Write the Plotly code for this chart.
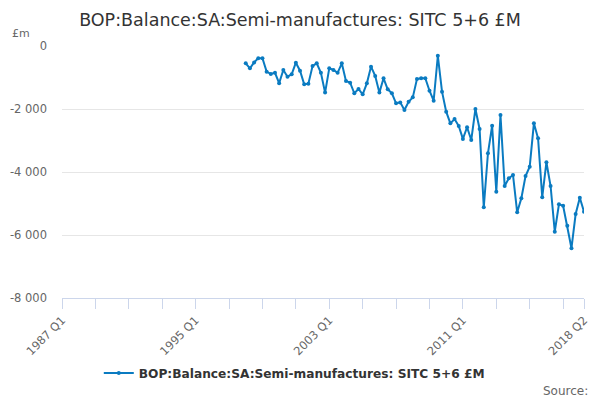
import plotly.graph_objects as go

# quarters along the axis, 1987 Q1 .. 2018 Q2
quarters = ["%d Q%d" % (y, q) for y in range(1987, 2019) for q in range(1, 5)][:126]

# BOP balance, SA, semi-manufactures (SITC 5+6), £m, 1998 Q1 .. 2018 Q2
start = "1998 Q1"
balance = [
    -550, -710, -520, -390, -390, -815, -890, -850, -1180, -760,
    -975, -900, -530, -785, -1215, -1195, -635, -550, -850, -1480,
    -710, -760, -850, -550, -1110, -1165, -1500, -1365, -1535, -1185,
    -655, -950, -1480, -1025, -1375, -1500, -1820, -1790, -2030, -1770,
    -1630, -1050, -1025, -1025, -1420, -1735, -310, -1450, -2085, -2455,
    -2320, -2540, -2950, -2580, -2985, -2000, -2635, -5120, -3405, -2530,
    -4625, -2190, -4445, -4200, -4095, -5280, -4835, -4130, -3830, -2455,
    -2930, -4800, -3690, -4445, -5895, -5025, -5070, -5705, -6420, -5335,
    -4815, -5260,
]

x_ticks = quarters[::8] + ["2018 Q2"]
x_labels = ["1987 Q1", "1995 Q1", "2003 Q1", "2011 Q1", "2018 Q2"]
y_ticks = [0, -2000, -4000, -6000, -8000]
y_labels = ["0", "-2 000", "-4 000", "-6 000", "-8 000"]

i0 = quarters.index(start)
x_data = quarters[i0:i0 + len(balance)]

name = "BOP:Balance:SA:Semi-manufactures: SITC 5+6 £M"

fig = go.Figure()
fig.add_trace(go.Scatter(
    x=x_data, y=balance, name=name, mode="lines+markers",
    line=dict(color="#0a7bc1", width=2),
    marker=dict(size=4, color="#0a7bc1"),
))

fig.update_layout(
    width=600, height=400,
    margin=dict(l=62, r=16, t=46, b=102, autoexpand=False),
    plot_bgcolor="white", paper_bgcolor="white",
    font=dict(family="DejaVu Sans", color="#666666", size=11),
    title=dict(text=name, x=0.5, xanchor="center", y=0.95, yanchor="middle",
               font=dict(size=17.5, color="#333333")),
    showlegend=True,
    legend=dict(orientation="h", x=0.445, xanchor="center", y=0.0675, yref="container",
                yanchor="middle", font=dict(size=12.2, color="#333333", weight="bold")),
    xaxis=dict(
        type="category", categoryorder="array", categoryarray=quarters,
        range=[0, len(quarters) - 1], automargin=False,
        tickmode="array", tickvals=x_ticks,
        ticktext=[t if t in x_labels else "" for t in x_ticks],
        tickangle=-45, ticks="outside", ticklen=10, tickcolor="#ccd6eb",
        tickfont=dict(color="#666666", size=11.5),
        showline=True, linecolor="#ccd6eb", showgrid=False, zeroline=False,
    ),
    yaxis=dict(
        range=[-8000, 0], tickmode="array", tickvals=y_ticks, ticktext=y_labels,
        showgrid=True, gridcolor="#e6e6e6", zeroline=False, automargin=False,
        ticklabelstandoff=14, tickfont=dict(color="#666666", size=11.5),
    ),
    annotations=[
        dict(text="£m", xref="paper", yref="paper", x=-0.0785, y=1.05,
             showarrow=False, xanchor="center", yanchor="middle",
             font=dict(size=11, color="#666666")),
        dict(text="Source:", xref="paper", yref="paper", x=1.0115, y=-0.37,
             showarrow=False, xanchor="right", yanchor="middle",
             font=dict(size=12, color="#666666")),
    ],
)

# page body has a default margin; drop it so the chart sits at 0,0
fig.write_html("out.html", config={"displayModeBar": False},
               post_script="document.body.style.margin='0';")
